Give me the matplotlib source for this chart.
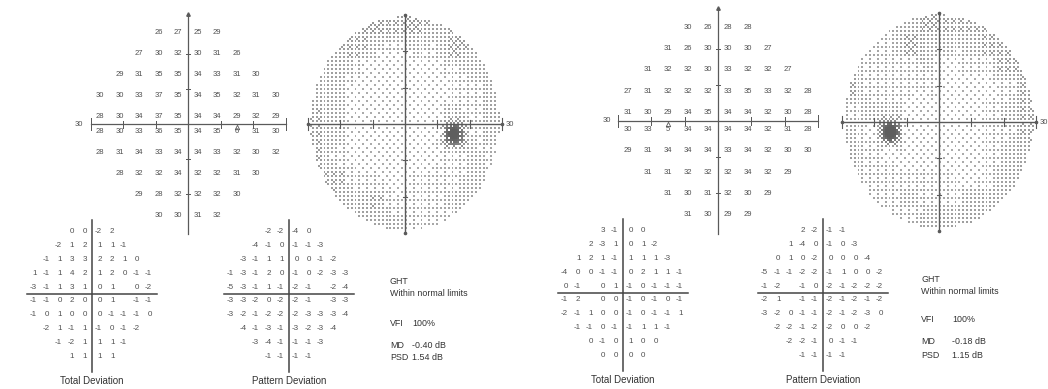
import numpy as np
import matplotlib.pyplot as plt

plt.rcParams["font.family"] = ["Liberation Sans", "DejaVu Sans"]

W, H = 1048, 389

# threshold values (dB), rows from superior (+27) to inferior (-27)
od_threshold = [
    [26, 27, 25, 29],
    [27, 30, 32, 30, 31, 26],
    [29, 31, 35, 35, 34, 33, 31, 30],
    [30, 30, 33, 37, 35, 34, 35, 32, 31, 30],
    [28, 30, 34, 37, 35, 34, 34, 29, 32, 29],
    [28, 30, 33, 36, 35, 34, 35, 6, 31, 30],
    [28, 31, 34, 33, 34, 34, 33, 32, 30, 32],
    [28, 32, 32, 34, 32, 32, 31, 30],
    [29, 28, 32, 32, 32, 30],
    [30, 30, 31, 32],
]
os_threshold = [
    [30, 26, 28, 28],
    [31, 26, 30, 30, 30, 27],
    [31, 32, 32, 30, 33, 32, 32, 27],
    [27, 31, 32, 32, 32, 33, 35, 33, 32, 28],
    [31, 30, 29, 34, 35, 34, 34, 32, 30, 28],
    [30, 33, 5, 34, 34, 34, 34, 32, 31, 28],
    [29, 31, 34, 34, 34, 33, 34, 32, 30, 30],
    [31, 31, 32, 32, 32, 34, 32, 29],
    [31, 30, 31, 32, 30, 29],
    [31, 30, 29, 29],
]

# deviation maps (None = blind spot, not printed)
od_total = [
    [0, 0, -2, 2],
    [-2, 1, 2, 1, 1, -1],
    [-1, 1, 3, 3, 2, 2, 1, 0],
    [1, -1, 1, 4, 2, 1, 2, 0, -1, -1],
    [-3, -1, 1, 3, 1, 0, 1, None, 0, -2],
    [-1, -1, 0, 2, 0, 0, 1, None, -1, -1],
    [-1, 0, 1, 0, 0, 0, -1, -1, -1, 0],
    [-2, 1, -1, 1, -1, 0, -1, -2],
    [-1, -2, 1, 1, 1, -1],
    [1, 1, 1, 1],
]
od_pattern = [
    [-2, -2, -4, 0],
    [-4, -1, 0, -1, -1, -3],
    [-3, -1, 1, 1, 0, 0, -1, -2],
    [-1, -3, -1, 2, 0, -1, 0, -2, -3, -3],
    [-5, -3, -1, 1, -1, -2, -1, None, -2, -4],
    [-3, -3, -2, 0, -2, -2, -1, None, -3, -3],
    [-3, -2, -1, -2, -2, -2, -3, -3, -3, -4],
    [-4, -1, -3, -1, -3, -2, -3, -4],
    [-3, -4, -1, -1, -1, -3],
    [-1, -1, -1, -1],
]
os_total = [
    [3, -1, 0, 0],
    [2, -3, 1, 0, 1, -2],
    [1, 2, 1, -1, 1, 1, 1, -3],
    [-4, 0, 0, -1, -1, 0, 2, 1, 1, -1],
    [0, -1, None, 0, 1, -1, 0, -1, -1, -1],
    [-1, 2, None, 0, 0, -1, 0, -1, 0, -1],
    [-2, -1, 1, 0, 0, -1, 0, -1, -1, 1],
    [-1, -1, 0, -1, -1, 1, 1, -1],
    [0, -1, 0, 1, 0, 0],
    [0, 0, 0, 0],
]
os_pattern = [
    [2, -2, -1, -1],
    [1, -4, 0, -1, 0, -3],
    [0, 1, 0, -2, 0, 0, 0, -4],
    [-5, -1, -1, -2, -2, -1, 1, 0, 0, -2],
    [-1, -2, None, -1, 0, -2, -1, -2, -2, -2],
    [-2, 1, None, -1, -1, -2, -1, -2, -1, -2],
    [-3, -2, 0, -1, -1, -2, -1, -2, -3, 0],
    [-2, -2, -1, -2, -2, 0, 0, -2],
    [-2, -2, -1, 0, -1, -1],
    [-1, -1, -1, -1],
]

od_stats = [("VFI", "100%"), ("MD", "-0.40 dB"), ("PSD", "1.54 dB")]
os_stats = [("VFI", "100%"), ("MD", "-0.18 dB"), ("PSD", "1.15 dB")]
ght_text = ["GHT", "Within normal limits"]

row_y = [27, 21, 15, 9, 3, -3, -9, -15, -21, -27]

INK = "#505050"
LINE = "#5a5a5a"

fig = plt.figure(figsize=(W / 100, H / 100), dpi=100)


def panel(cx, cy, sx, sy, hx, hy):
    # axes placed by its centre (pixels) and scale (pixels per degree)
    ax = fig.add_axes([(cx - hx * sx) / W, 1 - (cy + hy * sy) / H,
                       2 * hx * sx / W, 2 * hy * sy / H])
    ax.set_xlim(-hx, hx)
    ax.set_ylim(-hy, hy)
    ax.axis("off")
    return ax


def points(grid):
    for y, row in zip(row_y, grid):
        n = len(row)
        for i, v in enumerate(row):
            yield -3 * (n - 1) + 6 * i, y, v


def cross(ax, xr, ytop, ybot, lw):
    ax.plot([-xr, xr], [0, 0], color=LINE, lw=lw)
    ax.plot([0, 0], [ybot, ytop], color=LINE, lw=lw)
    for t in (-20, -10, 10, 20):
        ax.plot([t, t], [-1.0, 1.0], color=LINE, lw=lw * 0.8)
        ax.plot([-0.7, 0.7], [t, t], color=LINE, lw=lw * 0.8)
    for t in (-30, 30):
        ax.plot([t, t], [-1.6, 1.6], color=LINE, lw=lw * 0.8)


def threshold_panel(cx, cy, sx, sy, grid, blind_x):
    ax = panel(cx, cy, sx, sy, 34, 33)
    cross(ax, 30, 31.5, -31.5, 0.9)
    ax.plot(0, 31.5, marker="^", ms=2.5, color=LINE)
    for x, y, v in points(grid):
        yt = np.sign(y) * (abs(y) - 0.75)
        ax.text(x, yt, str(v), ha="center", va="center", fontsize=5.5, color=INK)
    ax.text(-33.5, 0, "30", ha="center", va="center", fontsize=5.5, color=INK)
    ax.plot(blind_x, -0.9, marker="^", ms=3.2, mfc="none", mec=LINE, mew=0.6)


def grayscale_panel(cx, cy, grid):
    ax = panel(cx, cy, 3.23, 3.64, 32, 31)
    pts = np.array([(x, y) for x, y, _ in points(grid)], float)
    vals = np.array([v for _, _, v in points(grid)], float)
    nx, ny = 100, 110
    gx = np.linspace(-30, 30, nx + 1)[:-1] + 30 / nx
    gy = np.linspace(-30, 30, ny + 1)[:-1] + 30 / ny
    XX, YY = np.meshgrid(gx, gy)
    g = np.column_stack([XX.ravel(), YY.ravel()])
    d = np.hypot(g[:, None, 0] - pts[None, :, 0], g[:, None, 1] - pts[None, :, 1])
    idx = np.argsort(d, axis=1)[:, :4]
    dn = np.take_along_axis(d, idx, axis=1)
    w = 1.0 / (dn ** 3 + 0.05)
    field = (w * vals[idx]).sum(1) / w.sum(1)
    field = field.reshape(XX.shape)

    # ordered dithering: lower sensitivity -> denser, darker dots
    dens = np.clip((37 - field) / 30, 0.13, 1.0)
    bayer = np.array([[0, 8, 2, 10], [12, 4, 14, 6],
                      [3, 11, 1, 9], [15, 7, 13, 5]])
    thr = (bayer[np.arange(ny)[:, None] % 4, np.arange(nx)[None, :] % 4] + 0.5) / 16
    on = (dens > thr) & (XX ** 2 + YY ** 2 <= 29.3 ** 2)
    shade = 0.72 - 0.35 * dens
    img = np.ones((ny, nx, 4))
    img[..., 0] = img[..., 1] = img[..., 2] = shade
    img[..., 3] = on.astype(float)
    ax.imshow(img, extent=[-30, 30, -30, 30], origin="lower",
              interpolation="nearest", aspect="auto", zorder=1)

    cross(ax, 30, 30, -30, 1.0)
    ax.plot([0, 0, -30, 30], [30, -30, 0, 0], "o", ms=1.6, color=LINE)
    ax.text(31.3, 0, "30", ha="left", va="center", fontsize=5.5, color=INK)


def deviation_panel(cx, cy, grid, label):
    ax = panel(cx, cy, 2.07, 2.32, 36, 41)
    ax.plot([-31.5, 31.5], [0, 0], color="#444444", lw=1.1)
    ax.plot([0, 0], [-33.5, 32], color="#444444", lw=1.1)
    for x, y, v in points(grid):
        if v is None:
            continue
        xr = np.sign(x) * (abs(x) + 0.7) + 1.2
        ax.text(xr, y, str(v), ha="right", va="center",
                fontsize=5.8, color=INK)
    ax.text(0, -37.6, label, ha="center", va="center", fontsize=7.0, color="#333333")


def stats_block(x, y0, stats, vx):
    fig.text(x / W, 1 - y0 / H, ght_text[0], fontsize=6.4, color="#333333", va="center")
    fig.text(x / W, 1 - (y0 + 12) / H, ght_text[1], fontsize=6.4,
             color="#333333", va="center")
    for (name, val), yy in zip(stats, (y0 + 41, y0 + 63, y0 + 76)):
        fig.text(x / W, 1 - yy / H, name, fontsize=6.4, color="#333333", va="center")
        fig.text(vx / W, 1 - yy / H, val, fontsize=6.4, color="#333333", va="center")


threshold_panel(188, 124, 3.25, 3.5, od_threshold, 15)
grayscale_panel(405, 124, od_threshold)
deviation_panel(92, 294, od_total, "Total Deviation")
deviation_panel(289, 294, od_pattern, "Pattern Deviation")
stats_block(390, 282, od_stats, 412)

threshold_panel(718, 121, 3.33, 3.58, os_threshold, -15)
grayscale_panel(939, 122, os_threshold)
deviation_panel(623, 293, os_total, "Total Deviation")
deviation_panel(823, 293, os_pattern, "Pattern Deviation")
stats_block(921, 279, os_stats, 952)

fig.savefig("out.png", dpi=100, facecolor="white")
